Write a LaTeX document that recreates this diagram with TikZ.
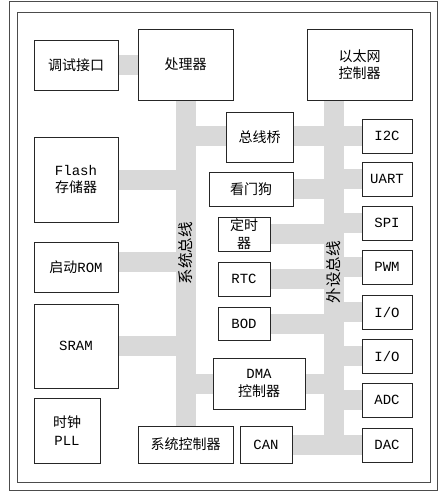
\documentclass[tikz,border=0pt]{standalone}
\usepackage{fontspec}
\setmainfont{Liberation Mono}
\newfontfamily\cjk{Noto Sans CJK SC}
\usetikzlibrary{backgrounds}
\tikzset{
 blk/.style={draw=black!85,fill=white,line width=.9pt,inner sep=0pt,align=center,font=\fontsize{14}{17.5}\selectfont},
 band/.style={draw=black!15,line width=20pt},
 frame/.style={draw=black!70,line width=.8pt},
 buslbl/.style={rotate=90,inner sep=0pt,font=\fontsize{15.5}{18}\selectfont\cjk}
}
\begin{document}
\begin{tikzpicture}[x=1pt,y=-1pt]
 \useasboundingbox (0,0) rectangle (445,495);
 \draw[frame] (9,1) rectangle (437,490);
 \draw[frame] (17,12) rectangle (430,482);
 % left column
 \node[blk,minimum width=84,minimum height=50] (dbg) at (76,65) {\cjk 调试接口};
 \node[blk,minimum width=84,minimum height=85] (flash) at (76,179.5) {Flash\\\cjk 存储器};
 \node[blk,minimum width=84,minimum height=50] (rom) at (76,267) {{\cjk 启动}ROM};
 \node[blk,minimum width=84,minimum height=84] (sram) at (76,346) {SRAM};
 \node[blk,minimum width=66,minimum height=65] (pll) at (67,430.5) {{\cjk 时钟}\\PLL};
 % middle
 \node[blk,minimum width=95,minimum height=71] (cpu) at (185.5,64.5) {\cjk 处理器};
 \node[blk,minimum width=67,minimum height=50] (bridge) at (259.5,137) {\cjk 总线桥};
 \node[blk,minimum width=84,minimum height=34] (wdt) at (251,189) {\cjk 看门狗};
 \node[blk,minimum width=52,minimum height=34] (timer) at (244,234) {\cjk 定时\\\cjk 器};
 \node[blk,minimum width=52,minimum height=34] (rtc) at (244,279) {RTC};
 \node[blk,minimum width=52,minimum height=33] (bod) at (244,323.5) {BOD};
 \node[blk,minimum width=92,minimum height=51] (dma) at (259,383.5) {DMA\\\cjk 控制器};
 \node[blk,minimum width=95,minimum height=37] (sysctl) at (185.5,444.5) {\cjk 系统控制器};
 \node[blk,minimum width=52,minimum height=37] (can) at (266,444.5) {CAN};
 % right column
 \node[blk,minimum width=105,minimum height=71] (eth) at (359.5,64.5) {\cjk 以太网\\\cjk 控制器};
 \foreach \n/\t/\y in {i2c/I2C/136,uart/UART/179,spi/SPI/223,pwm/PWM/267,ioa/I\slash O/312,iob/I\slash O/356,adc/ADC/400,dac/DAC/445}
  \node[blk,minimum width=50,minimum height=34] (\n) at (387,\y) {\t};
 \coordinate (pb) at (333.5,100);
 % buses
 \begin{scope}[on background layer]
  \draw[band] (cpu) -- (sysctl);
  \draw[band] (pb) -- (pb |- dac);
  \draw[band] (dbg) -- (dbg -| cpu);
  \draw[band] (flash) -- (flash -| cpu);
  \draw[band] ([yshift=5pt]rom.center) -- ([yshift=5pt]rom.center -| cpu);
  \draw[band] (sram) -- (sram -| cpu);
  \draw[band] (i2c -| cpu) -- (i2c);
  \draw[band] (dma -| cpu) -- (dma -| pb);
  \foreach \n in {wdt,timer,rtc,bod} \draw[band] (\n) -- (\n -| pb);
  \foreach \n in {uart,spi,pwm,ioa,iob,adc} \draw[band] (\n -| pb) -- (\n);
  \draw[band] (can) -- (can -| dac);
 \end{scope}
 \node[buslbl] (sblbl) at (186,253) {系统总线};
 \node[buslbl] (pblbl) at (333.5,272) {外设总线};
\end{tikzpicture}
\end{document}
